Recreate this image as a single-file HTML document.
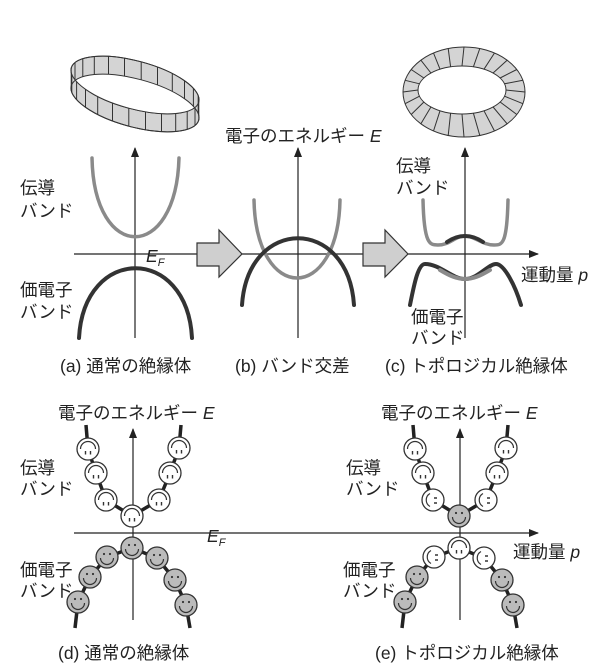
<!DOCTYPE html>
<html><head><meta charset="utf-8"><style>
html,body{margin:0;padding:0;background:#fff;}
svg{display:block;}
text{font-family:"Liberation Sans","Noto Sans CJK JP",sans-serif;font-size:17.5px;fill:#222;}
.i{font-style:italic;}
</style></head><body>
<svg width="600" height="666" viewBox="0 0 600 666" xmlns="http://www.w3.org/2000/svg">
<defs>
<marker id="ah" markerWidth="10" markerHeight="10" refX="9" refY="5" orient="auto" markerUnits="userSpaceOnUse">
<path d="M0,1 L10,5 L0,9 Z" fill="#222"/></marker>
<g id="fw"><circle r="11" fill="#fff" stroke="#333" stroke-width="1.3"/><path d="M-7.5,0 A7.5,7.5 0 0 1 7.5,0" fill="none" stroke="#333" stroke-width="1.2"/><path d="M-2.5,2 v3.5 M2.5,2 v3.5" stroke="#333" stroke-width="1.4"/></g>
<g id="fo"><circle r="11" fill="#fff" stroke="#333" stroke-width="1.3"/><path d="M-3,-6.5 A7.5,7.5 0 0 0 -3,6.5" fill="none" stroke="#333" stroke-width="1.2"/><path d="M1,-2 h3 M1,3 h3" stroke="#333" stroke-width="1.4"/></g>
<g id="fg"><circle r="11" fill="#bbb" stroke="#333" stroke-width="1.3"/><circle cx="-3" cy="-3" r="1.1" fill="#333"/><circle cx="3" cy="-3" r="1.1" fill="#333"/><path d="M-6.5,1 A6.5,6.5 0 0 0 6.5,1" fill="none" stroke="#333" stroke-width="1.2"/></g>
<clipPath id="ca"><ellipse cx="0" cy="0" rx="66" ry="24" transform="rotate(15)"/></clipPath>
</defs>

<!-- Ring (a) -->
<g transform="translate(135,85)" stroke="#333" stroke-width="1">
<g transform="translate(0,18)"><ellipse rx="66" ry="24" transform="rotate(15)" fill="#d4d4d4"/></g>
<ellipse rx="66" ry="24" transform="rotate(15)" fill="#d4d4d4"/>
<polygon points="64,14 64,32 -64,4 -64,-14" fill="#d4d4d4" stroke="none"/>
<g clip-path="url(#ca)"><g transform="translate(0,18)"><ellipse rx="66" ry="24" transform="rotate(15)" fill="#fff" stroke="none"/></g></g>
<ellipse rx="66" ry="24" transform="rotate(15)" fill="none"/>
<g transform="translate(0,18)"><ellipse rx="66" ry="24" transform="rotate(15)" fill="none"/></g>
<path fill="none" d="M63.8,17.1v18 M60,22.5v18 M52.2,26.4v18 M40.7,28.5v18 M26.5,28.6v18 M10.5,26.8v18 M-6.2,23.2v18 M-22.5,18v18 M-37.3,11.6v18 M-49.5,4.3v18 M-58.4,-3.2v18 M-63.2,-10.5v18 M-63.8,-17.1v18 M-60,-22.5v18 M-52.2,-26.4v18 M-40.7,-28.5v18 M-26.5,-28.6v18 M-10.5,-26.8v18 M6.2,-23.2v18 M22.5,-18v18 M37.3,-11.6v18 M49.5,-4.3v18 M58.4,3.2v18 M63.2,10.5v18"/>
</g>

<!-- Ring (c) -->
<g stroke="#333" stroke-width="1">
<ellipse cx="464" cy="92" rx="61" ry="45" fill="#d4d4d4"/>
<ellipse cx="462" cy="90" rx="44" ry="24" fill="#fff"/>
<path fill="none" d="M525,92L506,90M522.9,103.7L504.5,96.2M516.8,114.5L500.1,102M507.1,123.8L493.1,107M494.5,131L484,110.8M479.8,135.5L473.4,113.2M464,137L462,114M448.2,135.5L450.6,113.2M433.5,131L440,110.8M420.9,123.8L430.9,107M411.2,114.5L423.9,102M405.1,103.7L419.5,96.2M403,92L418,90M405.1,80.3L419.5,83.8M411.2,69.5L423.9,78M420.9,60.2L430.9,73M433.5,53L440,69.2M448.2,48.5L450.6,66.8M464,47L462,66M479.8,48.5L473.4,66.8M494.5,53L484,69.2M507.1,60.2L493.1,73M516.8,69.5L500.1,78M522.9,80.3L504.5,83.8"/>
</g>

<!-- top axes -->
<g stroke="#222" stroke-width="1.2" fill="none">
<line x1="135" y1="338" x2="135" y2="148" marker-end="url(#ah)"/>
<line x1="298" y1="338" x2="298" y2="148" marker-end="url(#ah)"/>
<line x1="465" y1="338" x2="465" y2="148" marker-end="url(#ah)"/>
<line x1="74" y1="254" x2="538" y2="254" marker-end="url(#ah)"/>
</g>
<!-- top curves -->
<g fill="none" stroke-linecap="round">
<path d="M92,158 C94,263 176,263 179,158" stroke="#8a8a8a" stroke-width="3.5"/>
<path d="M79,338 C84,245 187,245 192,338" stroke="#333" stroke-width="4"/>
<path d="M254,200 C256,304 338,304 340,200" stroke="#8a8a8a" stroke-width="3.5"/>
<path d="M242,305 C248,216 348,216 354,305" stroke="#333" stroke-width="4"/>
<path d="M423,200 C424,245 430,245 438,245 C450,245 455,236 465,236 C475,236 482,245 494,245 C502,245 507,245 508,200" stroke="#8a8a8a" stroke-width="3.5"/>
<path d="M447,242 C453,238 458,236 465,236 C472,236 477,238 483,242" stroke="#333" stroke-width="4"/>
<path d="M410,305 C414,285 418,264 425,264 C440,264 452,279 465,279 C478,279 488,264 496,264 C504,264 515,285 521,305" stroke="#333" stroke-width="4"/>
<path d="M440,270 C450,276 457,279 465,279 C473,279 480,276 490,270" stroke="#8a8a8a" stroke-width="4"/>
</g>
<!-- block arrows -->
<polygon points="197,243 219,243 219,230 242,254 219,277 219,266 197,266" fill="#cfcfcf" stroke="#333" stroke-width="1.2"/>
<polygon points="363,243 385,243 385,230 408,254 385,277 385,266 363,266" fill="#cfcfcf" stroke="#333" stroke-width="1.2"/>

<!-- top labels -->
<text x="225" y="142">電子のエネルギー <tspan class="i">E</tspan></text>
<text x="146" y="262" class="i">E<tspan font-size="11" dy="4">F</tspan></text>
<text x="20" y="194">伝導</text>
<text x="20" y="217">バンド</text>
<text x="20" y="296">価電子</text>
<text x="20" y="318">バンド</text>
<text x="396" y="172">伝導</text>
<text x="396" y="194">バンド</text>
<text x="521" y="281">運動量 <tspan class="i">p</tspan></text>
<text x="411" y="323">価電子</text>
<text x="411" y="344">バンド</text>
<text x="60" y="372">(a) 通常の絶縁体</text>
<text x="235" y="372">(b) バンド交差</text>
<text x="385" y="372">(c) トポロジカル絶縁体</text>

<!-- bottom axes -->
<g stroke="#222" stroke-width="1.2" fill="none">
<line x1="133" y1="620" x2="133" y2="429" marker-end="url(#ah)"/>
<line x1="460" y1="620" x2="460" y2="429" marker-end="url(#ah)"/>
<line x1="74" y1="533" x2="538" y2="533" marker-end="url(#ah)"/>
</g>
<g fill="none" stroke="#222" stroke-width="3.5" stroke-linejoin="round">
<polyline points="86,425 88,449 96,473 106,500 132,516 159,500 170,473 179,448 181,425"/>
<polyline points="75,628 78,602 90,577 107,557 132,548 157,558 175,580 186,605 190,628"/>
<polyline points="413,425 415,449 423,473 433,500 459,516 486,500 497,473 506,448 508,425"/>
<polyline points="402,628 405,602 417,577 434,557 459,548 484,558 502,580 513,605 517,628"/>
</g>
<!-- left faces -->
<use href="#fw" x="88" y="449"/><use href="#fw" x="96" y="473"/><use href="#fw" x="106" y="500"/><use href="#fw" x="132" y="516"/>
<use href="#fw" x="159" y="500"/><use href="#fw" x="170" y="473"/><use href="#fw" x="179" y="448"/>
<use href="#fg" x="78" y="602"/><use href="#fg" x="90" y="577"/><use href="#fg" x="107" y="557"/><use href="#fg" x="132" y="548"/>
<use href="#fg" x="157" y="558"/><use href="#fg" x="175" y="580"/><use href="#fg" x="186" y="605"/>
<!-- right faces -->
<use href="#fw" x="415" y="449"/><use href="#fw" x="423" y="473"/><use href="#fo" x="433" y="500"/><use href="#fg" x="459" y="516"/>
<use href="#fo" x="486" y="500"/><use href="#fw" x="497" y="473"/><use href="#fw" x="506" y="448"/>
<use href="#fg" x="405" y="602"/><use href="#fg" x="417" y="577"/><use href="#fo" x="434" y="557"/><use href="#fw" x="459" y="548"/>
<use href="#fo" x="484" y="558"/><use href="#fg" x="502" y="580"/><use href="#fg" x="513" y="605"/>

<!-- bottom labels -->
<text x="58" y="419">電子のエネルギー <tspan class="i">E</tspan></text>
<text x="381" y="419">電子のエネルギー <tspan class="i">E</tspan></text>
<text x="207" y="542" class="i">E<tspan font-size="11" dy="4">F</tspan></text>
<text x="20" y="474">伝導</text>
<text x="20" y="495">バンド</text>
<text x="20" y="576">価電子</text>
<text x="20" y="597">バンド</text>
<text x="346" y="474">伝導</text>
<text x="346" y="495">バンド</text>
<text x="343" y="576">価電子</text>
<text x="343" y="597">バンド</text>
<text x="513" y="558">運動量 <tspan class="i">p</tspan></text>
<text x="58" y="659">(d) 通常の絶縁体</text>
<text x="375" y="659">(e) トポロジカル絶縁体</text>
</svg>
</body></html>
